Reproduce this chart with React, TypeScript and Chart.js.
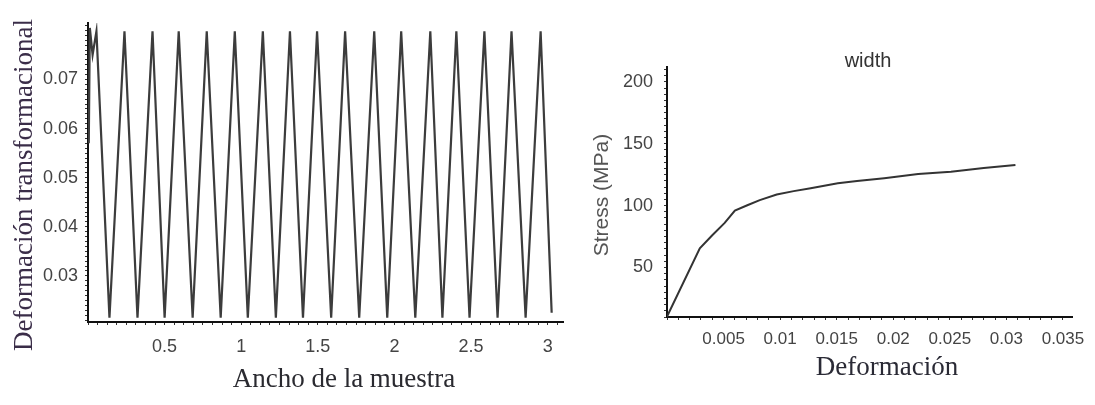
import React, { useEffect, useRef } from 'react';
import { Chart, registerables } from 'chart.js';

Chart.register(...registerables);

// ---- Left chart: Deformación transformacional vs Ancho de la muestra ----
const anchoX = [
  0.005, 0.012, 0.03, 0.055, 0.14, 0.238, 0.323, 0.421, 0.5, 0.592, 0.683, 0.775, 0.866,
  0.958, 1.043, 1.141, 1.226, 1.318, 1.403, 1.495, 1.587, 1.678, 1.77, 1.868, 1.953,
  2.044, 2.136, 2.234, 2.313, 2.404, 2.49, 2.587, 2.673, 2.764, 2.856, 2.954, 3.026,
];
const deformacionY = [
  0.057, 0.0805, 0.075, 0.0798, 0.0215, 0.0798, 0.0215, 0.0798, 0.0215, 0.0798, 0.0215,
  0.0798, 0.0215, 0.0798, 0.0215, 0.0798, 0.0215, 0.0798, 0.0215, 0.0798, 0.0215, 0.0798,
  0.0215, 0.0798, 0.0215, 0.0798, 0.0215, 0.0798, 0.0215, 0.0798, 0.0215, 0.0798, 0.0215,
  0.0798, 0.0215, 0.0798, 0.0225,
];
const leftXTickValues = [0.5, 1, 1.5, 2, 2.5, 3];
const leftXTickLabels = ['0.5', '1', '1.5', '2', '2.5', '3'];
const leftYTickValues = [0.03, 0.04, 0.05, 0.06, 0.07];
const leftYTickLabels = ['0.03', '0.04', '0.05', '0.06', '0.07'];

// ---- Right chart: Stress vs Deformación ----
const strainX = [
  0, 0.0029, 0.004, 0.0051, 0.006, 0.0071, 0.0082, 0.0097, 0.0112, 0.0127, 0.0151, 0.0168,
  0.0192, 0.0222, 0.0251, 0.028, 0.0308,
];
const stressY = [
  10.3, 65.5, 76, 86, 96, 100.3, 104.4, 109, 111.7, 114.1, 118, 119.8, 122.2, 125.5, 127.3,
  130.3, 132.8,
];
const rightXTickValues = [0.005, 0.01, 0.015, 0.02, 0.025, 0.03, 0.035];
const rightXTickLabels = ['0.005', '0.01', '0.015', '0.02', '0.025', '0.03', '0.035'];
const rightYTickValues = [50, 100, 150, 200];
const rightYTickLabels = ['50', '100', '150', '200'];

const SERIF = '"Liberation Serif", "Times New Roman", serif';
const SANS = '"Liberation Sans", Arial, sans-serif';

function labelFor(values: number[], labels: string[]) {
  return (v: any) => {
    const n = Number(v);
    for (let i = 0; i < values.length; i++) {
      if (Math.abs(values[i] - n) < 1e-9) return labels[i];
    }
    return '';
  };
}

// minor tick marks from the scale's min up to its max, at a fixed step
function minorTicks(step: number, digits: number) {
  return (scale: any) => {
    const out: { value: number }[] = [];
    const start = Math.ceil(scale.min / step - 1e-9);
    const end = Math.floor(scale.max / step + 1e-9);
    for (let k = start; k <= end; k++) {
      out.push({ value: Number((k * step).toFixed(digits)) });
    }
    scale.ticks = out;
  };
}

type TextItem = {
  text: string;
  x: number;
  y: number;
  font: string;
  color: string;
  rotate?: boolean;
};

function textPlugin(id: string, items: TextItem[]) {
  return {
    id,
    afterDraw(chart: any) {
      const ctx = chart.ctx as CanvasRenderingContext2D;
      for (const it of items) {
        ctx.save();
        ctx.font = it.font;
        ctx.fillStyle = it.color;
        ctx.textAlign = 'center';
        ctx.textBaseline = 'alphabetic';
        ctx.translate(it.x, it.y);
        if (it.rotate) ctx.rotate(-Math.PI / 2);
        ctx.fillText(it.text, 0, 0);
        ctx.restore();
      }
    },
  };
}

const whiteBg = {
  id: 'whiteBg',
  beforeDraw(chart: any) {
    const ctx = chart.ctx;
    ctx.save();
    ctx.fillStyle = '#ffffff';
    ctx.fillRect(0, 0, chart.width, chart.height);
    ctx.restore();
  },
};

function axisCommon() {
  return {
    border: { display: true, color: '#111', width: 2 },
    grid: {
      display: true,
      drawOnChartArea: false,
      drawTicks: true,
      tickLength: 3,
      color: '#333',
      lineWidth: 1,
    },
  };
}

function LeftChart() {
  const ref = useRef<HTMLCanvasElement | null>(null);
  useEffect(() => {
    if (!ref.current) return;
    const data = anchoX.map((x, i) => ({ x, y: deformacionY[i] }));
    const chart = new Chart(ref.current, {
      type: 'line',
      data: {
        datasets: [
          {
            data,
            borderColor: '#3c3c3c',
            borderWidth: 2.2,
            pointRadius: 0,
            tension: 0,
            fill: false,
          },
        ],
      },
      options: {
        animation: false,
        responsive: true,
        maintainAspectRatio: false,
        layout: { padding: { left: 0, right: 17, top: 23, bottom: 0 } },
        plugins: { legend: { display: false }, tooltip: { enabled: false }, title: { display: false } },
        scales: {
          x: {
            type: 'linear',
            min: 0,
            max: 3.1,
            ...axisCommon(),
            afterBuildTicks: minorTicks(0.0625, 4),
            ticks: {
              autoSkip: false,
              maxRotation: 0,
              minRotation: 0,
              padding: 11,
              color: '#444',
              font: { family: SANS, size: 18 },
              callback: labelFor(leftXTickValues, leftXTickLabels),
            },
            afterFit: (s: any) => {
              s.height = 83;
            },
          },
          y: {
            type: 'linear',
            min: 0.0206,
            max: 0.0815,
            ...axisCommon(),
            afterBuildTicks: minorTicks(0.001, 3),
            ticks: {
              autoSkip: false,
              padding: 7,
              color: '#444',
              font: { family: SANS, size: 18 },
              callback: labelFor(leftYTickValues, leftYTickLabels),
            },
            afterFit: (s: any) => {
              s.width = 88;
            },
          },
        },
      },
      plugins: [
        whiteBg,
        textPlugin('leftTitles', [
          { text: 'Deformación transformacional', x: 32, y: 185, font: `27px ${SERIF}`, color: '#3a2d48', rotate: true },
          { text: 'Ancho de la muestra', x: 344, y: 387, font: `27px ${SERIF}`, color: '#2a2a30' },
        ]),
      ],
    } as any);
    return () => chart.destroy();
  }, []);
  return (
    <div style={{ position: 'absolute', left: 0, top: 0, width: 580, height: 405 }}>
      <canvas ref={ref} />
    </div>
  );
}

function RightChart() {
  const ref = useRef<HTMLCanvasElement | null>(null);
  useEffect(() => {
    if (!ref.current) return;
    const data = strainX.map((x, i) => ({ x, y: stressY[i] }));
    const chart = new Chart(ref.current, {
      type: 'line',
      data: {
        datasets: [
          {
            data,
            borderColor: '#333',
            borderWidth: 2,
            pointRadius: 0,
            tension: 0,
            fill: false,
          },
        ],
      },
      options: {
        animation: false,
        responsive: true,
        maintainAspectRatio: false,
        layout: { padding: { left: 0, right: 23, top: 67, bottom: 0 } },
        plugins: { legend: { display: false }, tooltip: { enabled: false }, title: { display: false } },
        scales: {
          x: {
            type: 'linear',
            min: 0,
            max: 0.0358,
            ...axisCommon(),
            afterBuildTicks: minorTicks(0.001, 3),
            ticks: {
              autoSkip: false,
              maxRotation: 0,
              minRotation: 0,
              padding: 9,
              color: '#444',
              font: { family: SANS, size: 17 },
              callback: labelFor(rightXTickValues, rightXTickLabels),
            },
            afterFit: (s: any) => {
              s.height = 88;
            },
          },
          y: {
            type: 'linear',
            min: 10,
            max: 212,
            ...axisCommon(),
            afterBuildTicks: minorTicks(5, 0),
            ticks: {
              autoSkip: false,
              padding: 11,
              color: '#444',
              font: { family: SANS, size: 18 },
              callback: labelFor(rightYTickValues, rightYTickLabels),
            },
            afterFit: (s: any) => {
              s.width = 87;
            },
          },
        },
      },
      plugins: [
        whiteBg,
        textPlugin('rightTitles', [
          { text: 'width', x: 288, y: 67, font: `20px ${SANS}`, color: '#333' },
          { text: 'Stress (MPa)', x: 28, y: 195, font: `21px ${SANS}`, color: '#555', rotate: true },
          { text: 'Deformación', x: 307, y: 375, font: `27px ${SERIF}`, color: '#2a2a35' },
        ]),
      ],
    } as any);
    return () => chart.destroy();
  }, []);
  return (
    <div style={{ position: 'absolute', left: 580, top: 0, width: 515, height: 405 }}>
      <canvas ref={ref} />
    </div>
  );
}

export default function App() {
  return (
    <div
      style={{
        position: 'fixed',
        left: 0,
        top: 0,
        width: 1095,
        height: 405,
        background: '#fff',
        overflow: 'hidden',
      }}
    >
      <LeftChart />
      <RightChart />
    </div>
  );
}
